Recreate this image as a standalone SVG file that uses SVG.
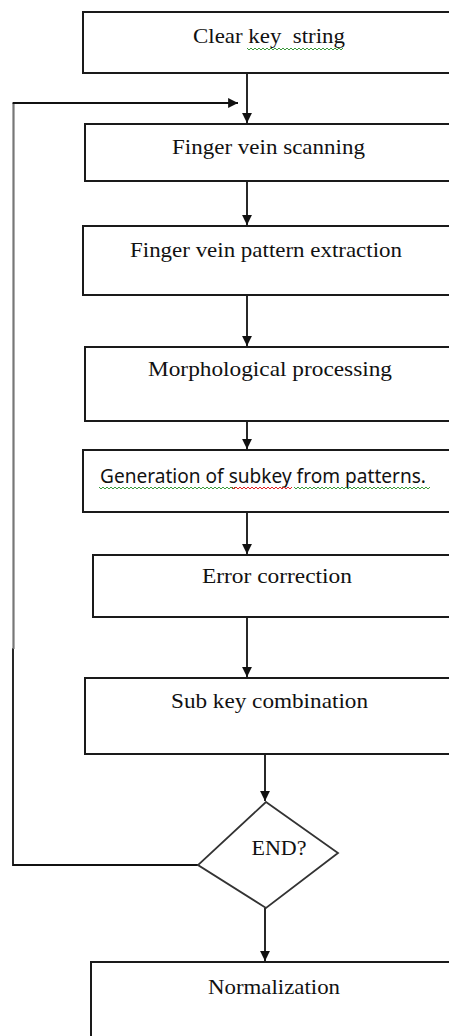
<svg xmlns="http://www.w3.org/2000/svg" width="449" height="1036" viewBox="0 0 449 1036">
<style>
.box{fill:#fff;stroke:#1a1a1a;stroke-width:2}
.dia{fill:#fff;stroke:#333;stroke-width:1.8}
.t{font-family:"Liberation Serif","Times New Roman",serif;font-size:22px;fill:#111;text-anchor:middle}
.s{font-family:"Noto Sans","Liberation Sans",sans-serif;font-size:20px;fill:#111;text-anchor:middle}
.c{fill:none;stroke:#111;stroke-width:1.8}
.sqg{fill:none;stroke:#3a9a3a;stroke-width:1}
.sqr{fill:none;stroke:#e02020;stroke-width:1}
</style>
<defs>
<marker id="ah" viewBox="0 0 10 10" refX="10" refY="5" markerWidth="6" markerHeight="5.5" orient="auto" markerUnits="strokeWidth">
<path d="M0,0 L10,5 L0,10 Z" fill="#111"/>
</marker>
</defs>
<g id="connectors">
<line class="c" x1="247" y1="73" x2="247" y2="123" marker-end="url(#ah)"/>
<line class="c" x1="247" y1="181" x2="247" y2="225" marker-end="url(#ah)"/>
<line class="c" x1="247" y1="295" x2="247" y2="346" marker-end="url(#ah)"/>
<line class="c" x1="247" y1="421" x2="247" y2="449" marker-end="url(#ah)"/>
<line class="c" x1="247" y1="512" x2="247" y2="554" marker-end="url(#ah)"/>
<line class="c" x1="247" y1="617" x2="247" y2="677" marker-end="url(#ah)"/>
<line class="c" x1="265" y1="754" x2="265" y2="801" marker-end="url(#ah)"/>
<line class="c" x1="265" y1="908" x2="265" y2="961" marker-end="url(#ah)"/>
<polyline class="c" points="199,865 13,865 13,648"/>
<line x1="13.5" y1="649" x2="13.5" y2="103" stroke="#777" stroke-width="2.2"/>
<line class="c" x1="12.6" y1="103" x2="238" y2="103" marker-end="url(#ah)"/>
</g>
<g id="n1">
<rect class="box" x="83" y="12" width="400" height="61"/>
<text class="t" x="269" y="43" xml:space="preserve" textLength="152" lengthAdjust="spacingAndGlyphs">Clear key  string</text>
<path class="sqg" d="M247,48 l2,2 l2,-2 l2,2 l2,-2 l2,2 l2,-2 l2,2 l2,-2 l2,2 l2,-2 l2,2 l2,-2 l2,2 l2,-2 l2,2 l2,-2 l2,2 l2,-2 l2,2 l2,-2 l2,2 l2,-2 l2,2 l2,-2 l2,2 l2,-2 l2,2 l2,-2 l2,2 l2,-2 l2,2 l2,-2 l2,2 l2,-2 l2,2 l2,-2 l2,2 l2,-2 l2,2 l2,-2 l2,2 l2,-2 l2,2 l2,-2 l2,2 l2,-2 l2,2 l2,-2"/>
</g>
<g id="n2">
<rect class="box" x="85" y="124" width="400" height="57"/>
<text class="t" x="268.5" y="154" textLength="193" lengthAdjust="spacingAndGlyphs">Finger vein scanning</text>
</g>
<g id="n3">
<rect class="box" x="83" y="226" width="400" height="69"/>
<text class="t" x="266" y="257" textLength="272" lengthAdjust="spacingAndGlyphs">Finger vein pattern extraction</text>
</g>
<g id="n4">
<rect class="box" x="85" y="347" width="400" height="74"/>
<text class="t" x="270" y="376" textLength="244" lengthAdjust="spacingAndGlyphs">Morphological processing</text>
</g>
<g id="n5">
<rect class="box" x="83" y="450" width="400" height="62"/>
<text class="s" x="263" y="483" textLength="326" lengthAdjust="spacingAndGlyphs">Generation of subkey from patterns.</text>
<path class="sqg" d="M99,487 l2,2 l2,-2 l2,2 l2,-2 l2,2 l2,-2 l2,2 l2,-2 l2,2 l2,-2 l2,2 l2,-2 l2,2 l2,-2 l2,2 l2,-2 l2,2 l2,-2 l2,2 l2,-2 l2,2 l2,-2 l2,2 l2,-2 l2,2 l2,-2 l2,2 l2,-2 l2,2 l2,-2 l2,2 l2,-2 l2,2 l2,-2 l2,2 l2,-2 l2,2 l2,-2 l2,2 l2,-2 l2,2 l2,-2 l2,2 l2,-2 l2,2 l2,-2 l2,2 l2,-2 l2,2 l2,-2 l2,2 l2,-2 l2,2 l2,-2 l2,2 l2,-2 l2,2 l2,-2 l2,2 l2,-2 l2,2 l2,-2 l2,2 l2,-2 l2,2 l2,-2 l2,2 l2,-2"/>
<path class="sqr" d="M232,487 l2,2 l2,-2 l2,2 l2,-2 l2,2 l2,-2 l2,2 l2,-2 l2,2 l2,-2 l2,2 l2,-2 l2,2 l2,-2 l2,2 l2,-2 l2,2 l2,-2 l2,2 l2,-2 l2,2 l2,-2 l2,2 l2,-2 l2,2 l2,-2 l2,2 l2,-2 l2,2 l2,-2"/>
<path class="sqg" d="M294,487 l2,2 l2,-2 l2,2 l2,-2 l2,2 l2,-2 l2,2 l2,-2 l2,2 l2,-2 l2,2 l2,-2 l2,2 l2,-2 l2,2 l2,-2 l2,2 l2,-2 l2,2 l2,-2 l2,2 l2,-2 l2,2 l2,-2 l2,2 l2,-2 l2,2 l2,-2 l2,2 l2,-2 l2,2 l2,-2 l2,2 l2,-2 l2,2 l2,-2 l2,2 l2,-2 l2,2 l2,-2 l2,2 l2,-2 l2,2 l2,-2 l2,2 l2,-2 l2,2 l2,-2 l2,2 l2,-2 l2,2 l2,-2 l2,2 l2,-2 l2,2 l2,-2 l2,2 l2,-2 l2,2 l2,-2 l2,2 l2,-2 l2,2 l2,-2 l2,2 l2,-2 l2,2 l2,-2"/>
</g>
<g id="n6">
<rect class="box" x="93" y="555" width="400" height="62"/>
<text class="t" x="277" y="583" textLength="150" lengthAdjust="spacingAndGlyphs">Error correction</text>
</g>
<g id="n7">
<rect class="box" x="85" y="678" width="400" height="76"/>
<text class="t" x="269.5" y="708" textLength="197" lengthAdjust="spacingAndGlyphs">Sub key combination</text>
</g>
<g id="n8">
<polygon class="dia" points="266,802 338,853 266,908 198,865"/>
<text class="t" x="279" y="855" textLength="55" lengthAdjust="spacingAndGlyphs">END?</text>
</g>
<g id="n9">
<rect class="box" x="91" y="962" width="400" height="120"/>
<text class="t" x="274" y="994" textLength="132" lengthAdjust="spacingAndGlyphs">Normalization</text>
</g>
</svg>
